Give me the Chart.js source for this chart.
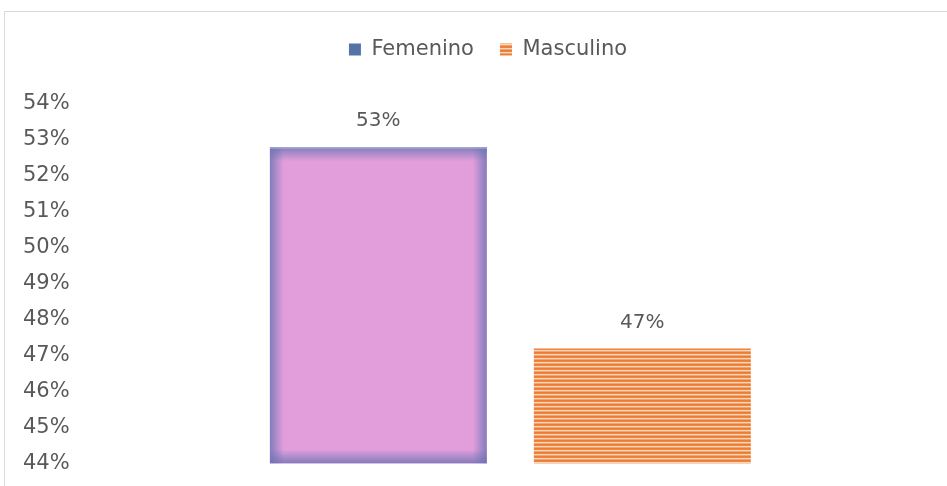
<!DOCTYPE html>
<html>
<head>
<meta charset="utf-8">
<script src="https://cdn.jsdelivr.net/npm/chart.js@4.4.1/dist/chart.umd.min.js"></script>
<style>
html,body{margin:0;padding:0;background:#fff;}
canvas{display:block;}
</style>
</head>
<body>
<canvas id="c" width="947" height="486"></canvas>
<script>
// ---- data ----
const categories = [''];
const seriesNames = ['Femenino', 'Masculino'];
const femeninoValues = [52.8];
const masculinoValues = [47.2];
const valueLabels = ['53%', '47%'];
const yMin = 44, yMax = 54, yStep = 1;

// ---- styles ----
const FONT = '"DejaVu Sans", sans-serif';
const TEXT = '#595959';

function stripePattern() {
  const c = document.createElement('canvas');
  c.width = 4; c.height = 4;
  const g = c.getContext('2d');
  const rows = ['#ed7d31', '#ee8440', '#fad7c0', '#f2a46e'];
  rows.forEach((col, i) => { g.fillStyle = col; g.fillRect(0, i, 4, 1); });
  return g.createPattern(c, 'repeat');
}
const stripes = stripePattern();

const framePlugin = {
  id: 'frame',
  beforeDraw(chart) {
    const ctx = chart.ctx;
    ctx.save();
    ctx.strokeStyle = '#d9d9d9';
    ctx.lineWidth = 1;
    ctx.beginPath();
    ctx.moveTo(4.5, chart.height);
    ctx.lineTo(4.5, 11.5);
    ctx.lineTo(chart.width, 11.5);
    ctx.stroke();
    ctx.restore();
  }
};

const glowPlugin = {
  id: 'glow',
  afterDatasetsDraw(chart) {
    const ctx = chart.ctx;
    const el = chart.getDatasetMeta(0).data[0];
    if (!el) return;
    const p = el.getProps(['x', 'y', 'base', 'width'], true);
    const l = p.x - p.width / 2, r = p.x + p.width / 2, t = p.y;
    const b = Math.min(p.base, chart.chartArea.bottom);
    const g = 14;
    const edge = 'rgba(105,115,180,0.8)';
    const clear = 'rgba(105,115,180,0)';
    ctx.save();
    ctx.beginPath();
    ctx.rect(l, t, r - l, b - t);
    ctx.clip();
    let gr = ctx.createLinearGradient(l, 0, l + g, 0);
    gr.addColorStop(0, edge); gr.addColorStop(1, clear);
    ctx.fillStyle = gr; ctx.fillRect(l, t, g, b - t);
    gr = ctx.createLinearGradient(r, 0, r - g, 0);
    gr.addColorStop(0, edge); gr.addColorStop(1, clear);
    ctx.fillStyle = gr; ctx.fillRect(r - g, t, g, b - t);
    gr = ctx.createLinearGradient(0, t, 0, t + g);
    gr.addColorStop(0, edge); gr.addColorStop(1, clear);
    ctx.fillStyle = gr; ctx.fillRect(l, t, r - l, g);
    gr = ctx.createLinearGradient(0, b, 0, b - g);
    gr.addColorStop(0, edge); gr.addColorStop(1, clear);
    ctx.fillStyle = gr; ctx.fillRect(l, b - g, r - l, g);
    ctx.fillStyle = '#9db3cc';
    ctx.fillRect(l, t, r - l, 1.5);
    ctx.restore();
  }
};

const labelPlugin = {
  id: 'valueLabels',
  afterDatasetsDraw(chart) {
    const ctx = chart.ctx;
    ctx.save();
    ctx.font = '20px ' + FONT;
    ctx.fillStyle = TEXT;
    ctx.textAlign = 'center';
    ctx.textBaseline = 'middle';
    chart.data.datasets.forEach((ds, i) => {
      const el = chart.getDatasetMeta(i).data[0];
      ctx.fillText(valueLabels[i], el.x, el.y - 26);
    });
    ctx.restore();
  }
};

const legendTweak = {
  id: 'legendTweak',
  beforeInit(chart) {
    const lg = chart.legend;
    const fit = lg.fit;
    lg.fit = function () {
      fit.bind(lg)();
      this.height += 32;
    };
    const draw = lg.draw;
    lg.draw = function () {
      const ctx = chart.ctx;
      ctx.save();
      ctx.translate(11, -2);
      draw.bind(lg)();
      ctx.restore();
    };
  }
};

new Chart(document.getElementById('c'), {
  type: 'bar',
  data: {
    labels: categories,
    datasets: [
      { label: seriesNames[0], data: femeninoValues, backgroundColor: '#e29edb', borderWidth: 0,
        barPercentage: 0.822, categoryPercentage: 0.613 },
      { label: seriesNames[1], data: masculinoValues, backgroundColor: stripes, borderWidth: 0,
        barPercentage: 0.822, categoryPercentage: 0.613 }
    ]
  },
  options: {
    responsive: false,
    devicePixelRatio: 1,
    animation: false,
    layout: { padding: { top: 15, bottom: 14, left: 13, right: 6 } },
    plugins: {
      tooltip: { enabled: false },
      legend: {
        position: 'top',
        labels: {
          boxWidth: 12, boxHeight: 12, padding: 26, color: TEXT,
          font: { family: FONT, size: 21 },
          generateLabels() {
            return [
              { text: seriesNames[0], fillStyle: '#5673a8', strokeStyle: '#5673a8', lineWidth: 0, datasetIndex: 0, fontColor: TEXT },
              { text: seriesNames[1], fillStyle: stripes, strokeStyle: '#ed7d31', lineWidth: 0, datasetIndex: 1, fontColor: TEXT }
            ];
          }
        }
      }
    },
    scales: {
      x: { display: false },
      y: {
        min: yMin, max: yMax,
        grid: { display: false, drawTicks: false },
        border: { display: false },
        ticks: { stepSize: yStep, color: TEXT, padding: 10, font: { family: FONT, size: 21 },
                 callback: v => v + '%' }
      }
    }
  },
  plugins: [framePlugin, glowPlugin, labelPlugin, legendTweak]
});
</script>
</body>
</html>
